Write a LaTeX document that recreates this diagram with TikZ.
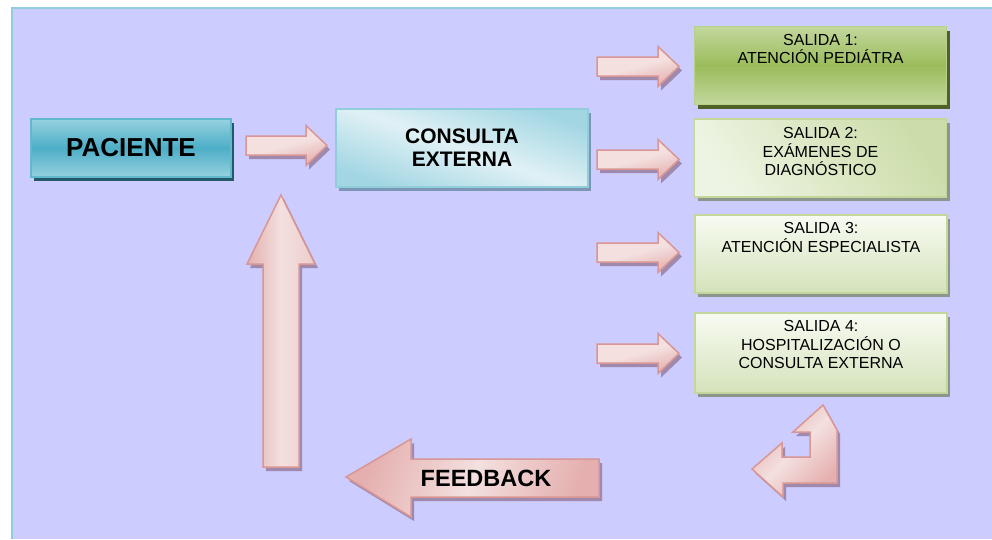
\documentclass[tikz,border=0pt]{standalone}
\usepackage{fontspec}
\setmainfont{Liberation Sans}
\usetikzlibrary{shadows}

\definecolor{bgfill}{HTML}{CCCCFF}
\definecolor{bgline}{HTML}{92CDDC}
\definecolor{arrline}{HTML}{D99694}
\definecolor{arrlight}{HTML}{F3E0DF}
\definecolor{arrdark}{HTML}{E4AFAE}
\definecolor{arrmid}{HTML}{EDCDCC}
\definecolor{arrshade}{HTML}{9F8AAD}
\definecolor{pacline}{HTML}{62B9CE}
\definecolor{paclight}{HTML}{96D1DF}
\definecolor{pacdark}{HTML}{4DAEC7}
\definecolor{pacshade}{HTML}{215968}
\definecolor{consline}{HTML}{92CDDC}
\definecolor{consdark}{HTML}{A2D6E3}
\definecolor{conslight}{HTML}{E0F1F5}
\definecolor{consshade}{HTML}{7C97B5}
\definecolor{oneline}{HTML}{B7D08A}
\definecolor{onelight}{HTML}{C3D79D}
\definecolor{onedark}{HTML}{9CBC5B}
\definecolor{oneshade}{HTML}{4F6228}
\definecolor{outline}{HTML}{C3D69B}
\definecolor{twodark}{HTML}{CCDDA9}
\definecolor{twolight}{HTML}{EEF4E3}
\definecolor{paletop}{HTML}{F8FBF2}
\definecolor{palebottom}{HTML}{D4E2BA}
\definecolor{outshade}{HTML}{8C968C}

% right-pointing block arrow: tail x, tip x, centre y
\newcommand\rblock[3]{%
  \fill[arrshade, shift={(3,4)}] (#1,#3-9.5) -- (#2-21,#3-9.5) -- (#2-21,#3-20) -- (#2,#3)
    -- (#2-21,#3+20) -- (#2-21,#3+9.5) -- (#1,#3+9.5) -- cycle;
  \draw[blockarrow, top color=arrlight, bottom color=arrdark, middle color=arrlight, shading angle=15]
    (#1,#3-9.5) -- (#2-21,#3-9.5) -- (#2-21,#3-20) -- (#2,#3)
    -- (#2-21,#3+20) -- (#2-21,#3+9.5) -- (#1,#3+9.5) -- cycle;
}

\begin{document}
\begin{tikzpicture}[x=1pt,y=-1pt,
  blockarrow/.style={draw=arrline, line width=1.5pt, line join=miter},
  boxshadow/.style={drop shadow={shadow xshift=3pt, shadow yshift=-4pt, opacity=1, fill=#1}},
  basebox/.style={rectangle, inner sep=0pt, line width=1.5pt},
  outbox/.style={basebox, minimum width=252pt, minimum height=78pt},
  outtext/.style={anchor=north, inner sep=0pt, align=center,
    font=\fontsize{16}{18.5}\selectfont},
]
\useasboundingbox (0,0) rectangle (992,539);

% canvas
\fill[bgfill] (12,8) rectangle (992,539);
\draw[bgline, line width=2.5pt] (12,539) -- (12,8) -- (992,8);

% main boxes
\node[basebox, minimum width=200pt, minimum height=58pt, draw=pacline,
  top color=paclight, bottom color=paclight, middle color=pacdark,
  boxshadow=pacshade, font=\fontsize{26}{30}\selectfont\bfseries]
  (pac) at (131,148) {PACIENTE};

\node[basebox, minimum width=252pt, minimum height=78pt, draw=consline,
  top color=consdark, bottom color=consdark, middle color=conslight,
  shading angle=-20, boxshadow=consshade, align=center,
  font=\fontsize{21}{25}\selectfont\bfseries]
  (cons) at (462,148) {CONSULTA\\[-2pt]EXTERNA};

% outcome boxes
\node[outbox, draw=oneline, top color=onelight, bottom color=onelight,
  middle color=onedark, boxshadow=oneshade] (s1) at (820.5,65.5) {};
\node[outbox, draw=outline, top color=twodark, bottom color=twolight,
  shading angle=-55, boxshadow=outshade] (s2) at (820.5,158) {};
\node[outbox, draw=outline, top color=paletop, bottom color=palebottom,
  boxshadow=outshade] (s3) at (821,254) {};
\node[outbox, minimum height=80pt, draw=outline, top color=paletop,
  bottom color=palebottom, boxshadow=outshade] (s4) at (821,353) {};

\node[outtext] (t1) at ([yshift=-8pt]s1.north) {SALIDA 1:\\ATENCIÓN PEDIÁTRA};
\node[outtext] (t2) at ([yshift=-9pt]s2.north) {SALIDA 2:\\EXÁMENES DE\\DIAGNÓSTICO};
\node[outtext] (t3) at ([yshift=-8pt]s3.north) {SALIDA 3:\\ATENCIÓN ESPECIALISTA};
\node[outtext] (t4) at ([yshift=-8pt]s4.north) {SALIDA 4:\\HOSPITALIZACIÓN O\\CONSULTA EXTERNA};

% flow arrows
\rblock{246}{327}{145.5}
\rblock{597}{679}{66.5}
\rblock{597}{679}{159.5}
\rblock{597}{679}{252.5}
\rblock{597}{679}{353.5}

% upward return arrow
\fill[arrshade, shift={(3,4)}] (281,195) -- (315,264) -- (299,264) -- (299,467)
  -- (263,467) -- (263,264) -- (247,264) -- cycle;
\draw[blockarrow, left color=arrdark, right color=arrmid, middle color=arrlight]
  (281,195) -- (315,264) -- (299,264) -- (299,467)
  -- (263,467) -- (263,264) -- (247,264) -- cycle;

% bent arrow below the last outcome
\fill[arrshade, shift={(3,4)}] (752,469) -- (782,443) -- (782,457) -- (810,457) -- (810,432)
  -- (793,432) -- (823,405) -- (837,430) -- (837,483) -- (783,483) -- (783,497) -- cycle;
\draw[blockarrow, top color=arrdark, bottom color=arrdark, middle color=arrlight, shading angle=45]
  (752,469) -- (782,443) -- (782,457) -- (810,457) -- (810,432)
  -- (793,432) -- (823,405) -- (837,430) -- (837,483) -- (783,483) -- (783,497) -- cycle;

% feedback arrow
\fill[arrshade, shift={(3,4)}] (346,477) -- (411,439) -- (411,459) -- (599,459)
  -- (599,497) -- (411,497) -- (411,517) -- cycle;
\draw[blockarrow, left color=arrdark, right color=arrdark, middle color=arrlight, shading angle=70]
  (346,477) -- (411,439) -- (411,459) -- (599,459)
  -- (599,497) -- (411,497) -- (411,517) -- cycle;
\node[font=\fontsize{23.5}{27}\selectfont\bfseries, inner sep=0pt] (fb) at (486,478) {FEEDBACK};

\end{tikzpicture}
\end{document}
